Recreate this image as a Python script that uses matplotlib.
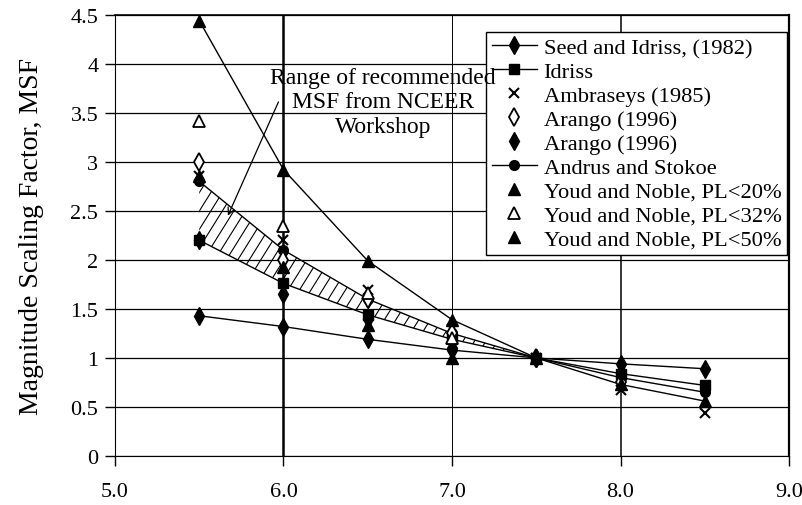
import numpy as np
import matplotlib
matplotlib.use("Agg")
import matplotlib.pyplot as plt
from matplotlib.collections import LineCollection
from matplotlib.transforms import IdentityTransform

plt.rcParams['font.family'] = ['Liberation Serif', 'DejaVu Serif']

nan = np.nan
M = [5.5, 6.0, 6.5, 7.0, 7.5, 8.0, 8.5]
seed_idriss = [1.43, 1.32, 1.19, 1.08, 1.00, 0.94, 0.89]
idriss = [2.20, 1.76, 1.44, 1.19, 1.00, 0.84, 0.72]
ambraseys = [2.86, 2.20, 1.69, 1.30, 1.00, 0.67, 0.44]
arango_a = [3.00, 2.00, 1.60, 1.25, 1.00, 0.75, nan]
arango_b = [2.20, 1.65, 1.40, 1.10, 1.00, 0.85, nan]
andrus = [2.80, 2.10, 1.60, 1.25, 1.00, 0.80, 0.65]
youd20 = [2.86, 1.93, 1.34, 1.00, nan, nan, nan]
youd32 = [3.42, 2.35, 1.66, 1.20, nan, nan, nan]
youd50 = [4.44, 2.92, 1.99, 1.39, 1.00, 0.73, 0.56]

xticks = [5.0, 6.0, 7.0, 8.0, 9.0]
xticklabels = ["5.0", "6.0", "7.0", "8.0", "9.0"]
yticks = [0, 0.5, 1, 1.5, 2, 2.5, 3, 3.5, 4, 4.5]
yticklabels = ["0", "0.5", "1", "1.5", "2", "2.5", "3", "3.5", "4", "4.5"]
ylabel = "Magnitude Scaling Factor, MSF"
note = "Range of recommended\nMSF from NCEER\nWorkshop"

fig = plt.figure(figsize=(8.03, 5.06), dpi=100)
ax = fig.add_axes([0.1432, 0.0968, 0.8394, 0.8722])
ax.set_xlim(5.0, 9.0)
ax.set_ylim(0, 4.5)

# grid
for y in yticks:
    ax.axhline(y, color='black', lw=0.9, zorder=1)
for xv, lw in zip([6.0, 7.0, 8.0], [1.8, 0.7, 1.1]):
    ax.axvline(xv, color='black', lw=lw, zorder=1)

# hatched NCEER range (between Idriss and Andrus & Stokoe, M <= 7.5)
mask = np.array(M) <= 7.5
Mr = np.array(M)[mask]
poly = ax.fill_between(Mr, np.array(idriss)[mask], np.array(andrus)[mask],
                       facecolor='none', edgecolor='none', zorder=2)
fig.canvas.draw()
bb = ax.bbox
ang = np.deg2rad(58)
spacing = 11.5
H = bb.height
xs = np.arange(bb.x0 - H / np.tan(ang), bb.x1, spacing)
segs = [[(x0, bb.y0), (x0 + H / np.tan(ang), bb.y1)] for x0 in xs]
lc = LineCollection(segs, colors='black', linewidths=0.8,
                    transform=IdentityTransform(), zorder=2)
lc.set_clip_path(poly.get_paths()[0], ax.transData)
ax.add_collection(lc)

# lines
lk = dict(color='black', lw=1.0, zorder=3)
ms = dict(color='black', linestyle='none', zorder=4)
ax.plot(M, youd50, **lk)
ax.plot(M, seed_idriss, marker='d', markersize=9, label='Seed and Idriss, (1982)', **lk)
ax.plot(M, idriss, marker='s', markersize=7, label='Idriss', **lk)
ax.plot(M, ambraseys, marker='x', markersize=7, mew=1.5, label='Ambraseys (1985)', **ms)
ax.plot(M, arango_a, marker='d', markersize=9, mfc='white', mew=1.3, label='Arango (1996)', **ms)
ax.plot(M, arango_b, marker='d', markersize=9, label='Arango (1996)', **ms)
ax.plot(M, andrus, marker='o', markersize=7, label='Andrus and Stokoe', **lk)
ax.plot(M, youd20, marker='^', markersize=8, label='Youd and Noble, PL<20%', **ms)
ax.plot(M, youd32, marker='^', markersize=8, mfc='white', mew=1.3, label='Youd and Noble, PL<32%', **ms)
ax.plot(M, youd50, marker='^', markersize=8, label='Youd and Noble, PL<50%', **ms)

leg = ax.legend(loc='upper right', bbox_to_anchor=(0.997, 0.961), borderaxespad=0,
                fontsize=16.2, frameon=True, fancybox=False, framealpha=1,
                edgecolor='black', labelspacing=0.14, handlelength=2.0,
                handletextpad=0.3, borderpad=0.25)
leg.get_frame().set_linewidth(1.0)
leg.set_zorder(10)

# annotation (drawn above legend)
ax.text(6.59, 3.61, note, ha='center', va='center', fontsize=17, linespacing=1.2, zorder=12)
ax.annotate('', xy=(5.67, 2.45), xytext=(5.97, 3.61),
            arrowprops=dict(arrowstyle='->', lw=0.9, color='black',
                            shrinkA=0, shrinkB=0, mutation_scale=12), zorder=5)

ax.set_xticks(xticks)
ax.set_xticklabels(xticklabels)
ax.set_yticks(yticks)
ax.set_yticklabels(yticklabels)
ax.tick_params(axis='both', direction='out', length=7, width=1, labelsize=16, colors='black')
ax.tick_params(axis='x', pad=12)
ax.tick_params(axis='y', pad=5)
ax.set_ylabel(ylabel, fontsize=20, labelpad=19)

for s in ['left', 'bottom']:
    ax.spines[s].set_linewidth(0.8)
ax.spines['top'].set_linewidth(1.2)
ax.spines['right'].set_linewidth(1.6)

fig.savefig('out.png', dpi=100)
